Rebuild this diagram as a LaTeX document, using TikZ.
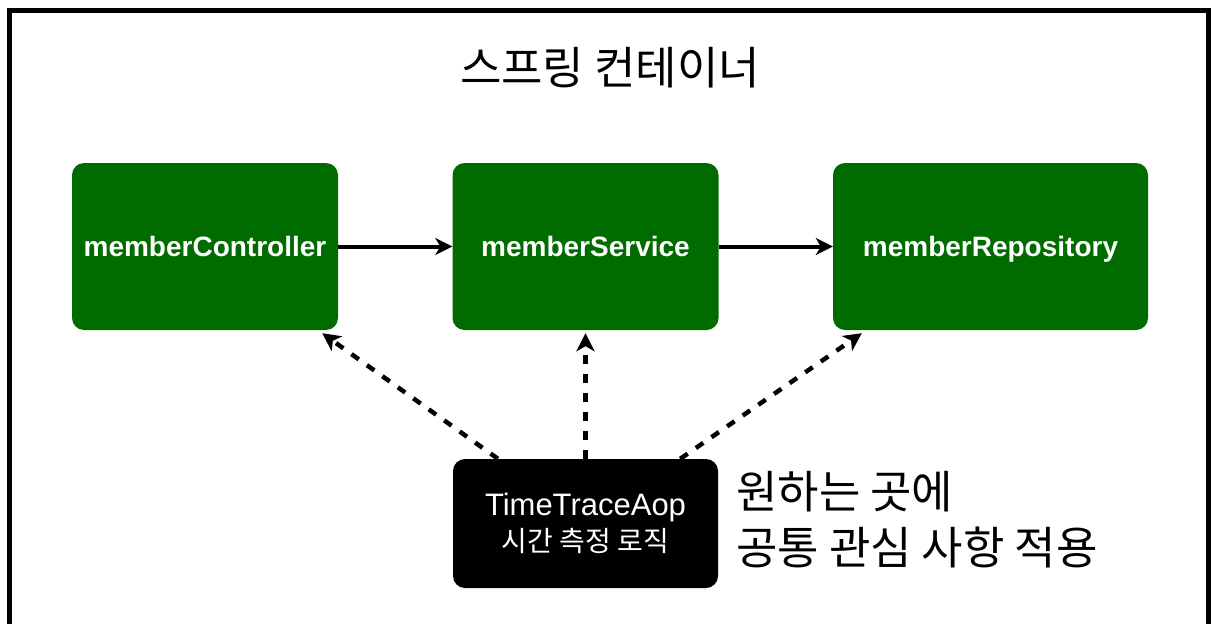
\documentclass[tikz,border=0pt]{standalone}
\usepackage{fontspec}
\setmainfont{Liberation Sans}
\newfontfamily\kr{Noto Sans CJK KR}
\usetikzlibrary{arrows.meta,calc}
\definecolor{boxgreen}{RGB}{0,108,0}
\begin{document}
\begin{tikzpicture}[x=1pt,y=-1pt,
  greenbox/.style={draw=none,fill=boxgreen,rounded corners=12pt,minimum width=266pt,minimum height=167pt,inner sep=0pt,text height=23pt,text depth=3pt,text=white,font=\fontsize{28}{32}\selectfont\bfseries},
  blackbox/.style={draw=none,fill=black,rounded corners=12pt,minimum width=265pt,minimum height=129pt,inner sep=0pt,text=white,align=center},
  solidarrow/.style={line width=4pt,-{Stealth[length=17pt,width=17pt,inset=5pt]}},
  dasharrow/.style={line width=4.5pt,dash pattern=on 9pt off 10pt,-{Stealth[length=18pt,width=18pt,inset=5pt]}}]
\useasboundingbox (0,0) rectangle (1211,624);
\fill[white] (0,0) rectangle (1211,624);
\draw[line width=5pt] (9.5,624) -- (9.5,10.5) -- (1208,10.5) -- (1208,624);
\node[font=\kr\fontsize{45}{50}\selectfont] (title) at (610,68) {스프링 컨테이너};
\node[greenbox] (ctrl) at (205,246.5) {memberController};
\node[greenbox] (svc) at (585.5,246.5) {memberService};
\node[greenbox,minimum width=315pt] (repo) at (990.5,246.5) {memberRepository};
\node[blackbox] (aop) at (585.5,523.5) {\fontsize{31}{36}\selectfont TimeTraceAop\\[6pt]\kr\fontsize{28}{34}\selectfont 시간 측정 로직};
\node[anchor=west,align=left,inner sep=0pt,font=\kr\fontsize{45}{56}\selectfont] (note) at (736,520) {원하는 곳에\\공통 관심 사항 적용};
\draw[solidarrow] (ctrl.east) -- (svc.west);
\draw[solidarrow] (svc.east) -- (repo.west);
\draw[dasharrow] ($(aop.north west)!0.17!(aop.north east)$) -- ($(ctrl.south west)!0.94!(ctrl.south east)+(0,3)$);
\draw[dasharrow] (aop.north) -- ($(svc.south)+(0,3)$);
\draw[dasharrow] ($(aop.north west)!0.857!(aop.north east)$) -- ($(repo.south west)!0.092!(repo.south east)+(0,3)$);
\end{tikzpicture}
\end{document}
